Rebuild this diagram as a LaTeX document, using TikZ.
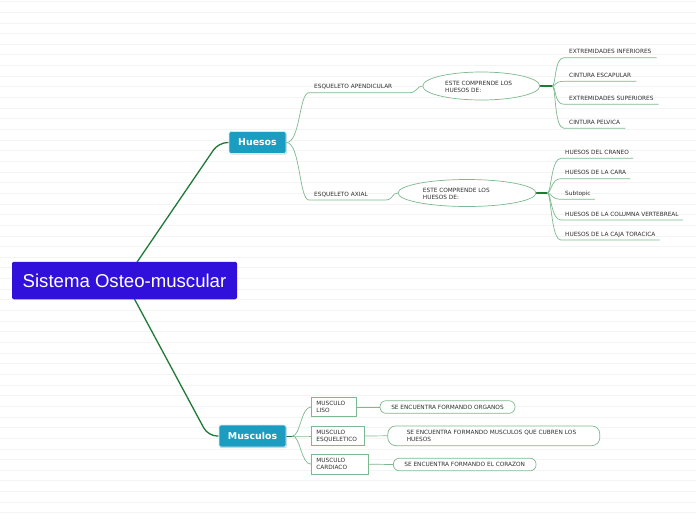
\documentclass[tikz,border=0pt]{standalone}
\usepackage{fontspec}
\setmainfont{DejaVu Sans}
\newfontfamily\titlefont{Liberation Sans}
\usepackage{tikz}
\usetikzlibrary{calc,shapes.geometric,backgrounds,shadows}
\definecolor{trunkgreen}{HTML}{1F7A35}
\definecolor{linkgreen}{HTML}{7DB98F}
\definecolor{rootblue}{HTML}{3210DC}
\definecolor{mainteal}{HTML}{1A9DC0}
\definecolor{inkgray}{HTML}{2E2E2E}
\definecolor{ruleline}{HTML}{F4F4F4}
\newcommand{\mapsmall}{\fontsize{5.8}{6.8}\selectfont}
\tikzset{
  trunk/.style={draw=trunkgreen,line width=1.3pt},
  twig/.style={draw=linkgreen,line width=0.7pt},
  rootbox/.style={fill=rootblue,text=white,rounded corners=2pt,font=\titlefont\fontsize{18.6}{20}\selectfont,minimum width=225pt,minimum height=37.5pt,inner sep=0pt},
  mainbox/.style={fill=mainteal,draw=white!80!mainteal,line width=0.8pt,rounded corners=2pt,text=white,font=\bfseries\fontsize{9.4}{11}\selectfont,minimum height=22pt,inner sep=0pt,drop shadow={shadow xshift=0.8pt,shadow yshift=-1.2pt,opacity=0.3}},
  topic/.style={font=\mapsmall,text=inkgray,align=left,anchor=south west,inner xsep=5pt,inner ysep=3.8pt,text height=4.3pt,text depth=0pt},
  bubble/.style={ellipse,draw=linkgreen,line width=0.7pt,fill=white,inner sep=0pt},
  note/.style={font=\mapsmall,text=inkgray,align=left,anchor=west,inner sep=0pt},
  kindbox/.style={draw=linkgreen,line width=0.8pt,fill=white,font=\mapsmall,text=inkgray,align=left,anchor=west,inner xsep=5pt,inner ysep=0pt,minimum height=19.6pt},
  pill/.style={draw=linkgreen,line width=0.7pt,fill=white,font=\mapsmall,text=inkgray,align=left,inner ysep=0pt,minimum height=12.6pt,rounded corners=6pt}
}
\begin{document}
\begin{tikzpicture}[x=1pt,y=-1pt]
\useasboundingbox (0,0) rectangle (696,520);
% central topic and the two main branches
\node[rootbox] (root) at (124.5,280.5) {Sistema Osteo-muscular};
\node[mainbox,minimum width=57pt] (huesos) at (257.5,142.5) {Huesos};
\node[mainbox,minimum width=67pt] (musculos) at (252.5,436) {Musculos};
% huesos
\node[topic,text width=90pt] (apend) at (309,92.7) {ESQUELETO APENDICULAR};
\node[topic,text width=66pt] (axial) at (309,200) {ESQUELETO AXIAL};
\node[bubble,minimum width=117pt,minimum height=28pt] (apendq) at (481.3,86) {};
\node[note] (apendtxt) at (445,86.5) {ESTE COMPRENDE LOS\\HUESOS DE:};
\node[bubble,minimum width=138pt,minimum height=27pt] (axialq) at (467,193) {};
\node[note] (axialtxt) at (422.7,193.5) {ESTE COMPRENDE LOS\\HUESOS DE:};
\coordinate (hubA) at ($(apendq.east)+(12,0)$);
\coordinate (hubB) at ($(axialq.east)+(11,0)$);
\node[topic] (extinf) at (564,57.7) {EXTREMIDADES INFERIORES};
\node[topic] (escap) at (564,81.3) {CINTURA ESCAPULAR};
\node[topic] (extsup) at (564,104.3) {EXTREMIDADES SUPERIORES};
\node[topic] (pelv) at (564,128.3) {CINTURA PELVICA};
\node[topic,inner xsep=4pt] (craneo) at (561,158.3) {HUESOS DEL CRANEO};
\node[topic,inner xsep=4pt] (cara) at (561,178.7) {HUESOS DE LA CARA};
\node[topic,inner xsep=4pt] (subt) at (561,199.3) {Subtopic};
\node[topic,inner xsep=4pt] (columna) at (561,220) {HUESOS DE LA COLUMNA VERTEBREAL};
\node[topic,inner xsep=4pt] (caja) at (561,240) {HUESOS DE LA CAJA TORACICA};
% musculos
\coordinate (hubM) at ($(musculos.east)+(6,0)$);
\node[kindbox,text width=34.7pt] (liso) at (311,407) {MUSCULO\\LISO};
\node[kindbox,text width=42.5pt] (esquel) at (311,436) {MUSCULO\\ESQUELETICO};
\node[kindbox,text width=47.3pt] (cardiaco) at (311,464.2) {MUSCULO\\CARDIACO};
\node[pill,minimum width=135pt] (organos) at (447.5,407) {SE ENCUENTRA FORMANDO ORGANOS};
\node[pill,text width=174pt,inner xsep=19pt,minimum height=19.7pt,rounded corners=8pt] (cubren) at (493.8,435.8) {SE ENCUENTRA FORMANDO MUSCULOS QUE CUBREN LOS\\HUESOS};
\node[pill,minimum width=142.7pt] (corazon) at (464.7,464.5) {SE ENCUENTRA FORMANDO EL CORAZON};
\begin{pgfonlayer}{background}
\fill[white] (0,0) rectangle (696,520);
\foreach \k in {0,...,48}
  \draw[ruleline,line width=0.6pt] (0,1.5+10.65*\k) -- (696,1.5+10.65*\k);
\draw[trunk,rounded corners=9pt] (root.center) -- ($(huesos.west)+(-10,0)$) -- (huesos.west);
\draw[trunk,rounded corners=9pt] (root.center) -- ($(musculos.west)+(-10.5,0)$) -- (musculos.west);
\draw[twig] (huesos.east) .. controls +(14,0) and +(-10,0) .. (apend.south west) -- (apend.south east) .. controls +(8,0) and +(-6,0) .. (apendq.west);
\draw[twig] (huesos.east) .. controls +(14,0) and +(-10,0) .. (axial.south west) -- (axial.south east) .. controls +(8,0) and +(-6,0) .. (axialq.west);
\draw[trunk] (apendq.east) -- (hubA);
\draw[trunk] (axialq.east) -- (hubB);
\foreach \leaf in {extinf,escap,extsup,pelv}
  \draw[twig] (hubA) .. controls +(4,0) and +(-10,0) .. (\leaf.south west) -- (\leaf.south east);
\foreach \leaf in {craneo,cara,subt,columna,caja}
  \draw[twig] (hubB) .. controls +(4,0) and +(-10,0) .. (\leaf.south west) -- (\leaf.south east);
\draw[trunk,line width=0.9pt] (musculos.east) -- (hubM);
\foreach \kind in {liso,esquel,cardiaco}
  \draw[twig] (hubM) .. controls +(8,0) and +(-10,0) .. (\kind.west);
\draw[twig] (liso.east) -- (organos.west);
\draw[twig] (esquel.east) -- (cubren.west);
\draw[twig] (cardiaco.east) -- (corazon.west);
\end{pgfonlayer}
\end{tikzpicture}
\end{document}
